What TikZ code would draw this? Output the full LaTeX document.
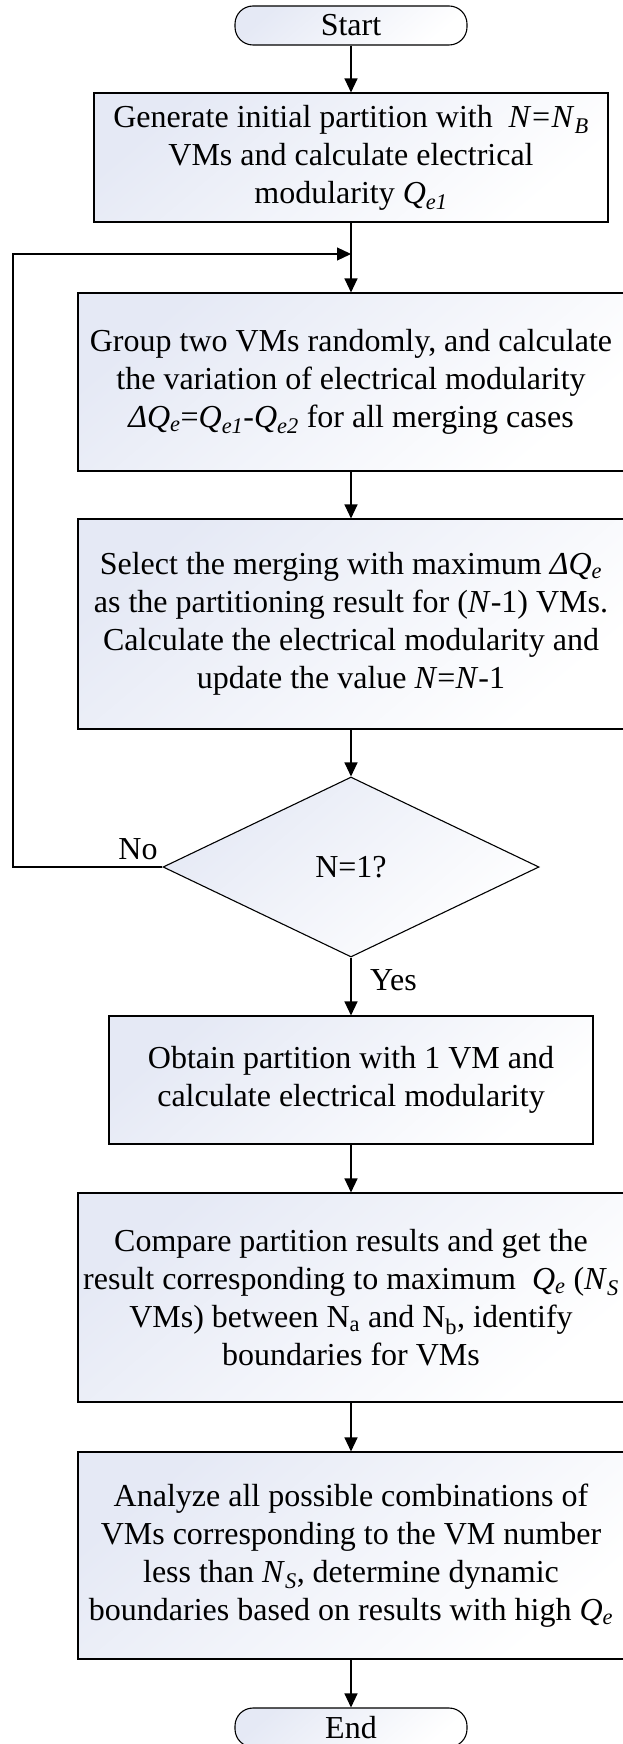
\documentclass[tikz,border=0pt]{standalone}
\usepackage{fontspec}
\setmainfont{Liberation Serif}
\usetikzlibrary{shapes.geometric,arrows.meta,calc}
\definecolor{boxtint}{RGB}{229,233,245}
\newcommand\itsub[2]{\textit{#1}\textsubscript{\textit{#2}}}
\begin{document}
\begin{tikzpicture}[x=1pt,y=1pt]
\tikzset{
  shapebase/.style={draw=black, line width=1.1pt, top color=boxtint, bottom color=white,
    shading angle=40, font=\fontsize{32pt}{38pt}\selectfont, align=center, inner sep=0pt},
  terminal/.style={shapebase, rectangle, rounded corners=18pt, minimum width=232pt, minimum height=39pt},
  procbox/.style={shapebase, rectangle},
  decision/.style={shapebase, diamond, minimum width=376pt, minimum height=180pt},
  arr/.style={line width=1.2pt, -{Triangle[length=14pt,width=13pt]}},
  lbl/.style={font=\fontsize{32pt}{38pt}\selectfont, inner sep=0pt}
}
\useasboundingbox (0,0) rectangle (622,-1744);

% terminals, process boxes and the decision
\node[terminal] (start) at (351,-25.5) {Start};
\node[procbox, minimum width=514pt, minimum height=129pt] (init) at (351,-157.5)
  {Generate initial partition with\ \ \itsub{N=N}{B}\\
   VMs and calculate electrical\\
   modularity \itsub{Q}{e1}};
\node[procbox, minimum width=546pt, minimum height=178pt] (group) at (351,-382)
  {Group two VMs randomly, and calculate\\
   the variation of electrical modularity\\
   \itsub{ΔQ}{e}=\itsub{Q}{e1}-\itsub{Q}{e2} for all merging cases};
\node[procbox, minimum width=546pt, minimum height=210pt] (select) at (351,-624)
  {Select the merging with maximum \itsub{ΔQ}{e}\\
   as the partitioning result for (\textit{N}-1) VMs.\\
   Calculate the electrical modularity and\\
   update the value \textit{N}=\textit{N}-1};
\node[decision] (dec) at (351,-867) {N=1?};
\node[procbox, minimum width=484pt, minimum height=128pt] (single) at (351,-1080)
  {Obtain partition with 1 VM and\\
   calculate electrical modularity};
\node[procbox, minimum width=546pt, minimum height=209pt] (compare) at (351,-1297.5)
  {Compare partition results and get the\\
   result corresponding to maximum\ \ \itsub{Q}{e} (\itsub{N}{S}\\
   VMs) between N\textsubscript{a} and N\textsubscript{b}, identify\\
   boundaries for VMs};
\node[procbox, minimum width=546pt, minimum height=207pt] (analyze) at (351,-1555.5)
  {Analyze all possible combinations of\\
   VMs corresponding to the VM number\\
   less than \itsub{N}{S}, determine dynamic\\
   boundaries based on results with high \itsub{Q}{e}};
\node[terminal] (stop) at (351,-1727.5) {End};

% branch labels
\node[lbl, anchor=base] (nolab) at (138,-859) {No};
\node[lbl, anchor=base west] (yeslab) at (370,-990) {Yes};

% connectors
\coordinate (join) at (351,-254);
\coordinate (lx) at (13,-254);
\draw[arr] (start) -- (init);
\draw[arr] (init) -- (group);
\draw[arr] (group) -- (select);
\draw[arr] (select) -- (dec);
\draw[arr] (dec) -- (single);
\draw[arr] (single) -- (compare);
\draw[arr] (compare) -- (analyze);
\draw[arr] (analyze) -- (stop);
\draw[arr] (dec.west) -| (lx) -- (join);
\end{tikzpicture}
\end{document}
